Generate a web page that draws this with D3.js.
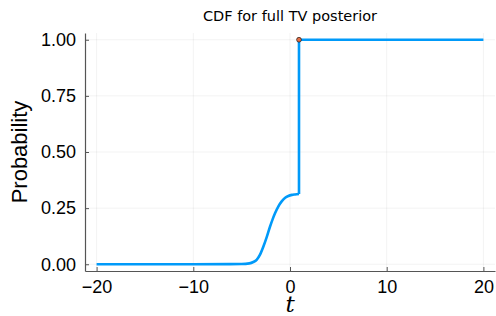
<!DOCTYPE html>
<html>
<head>
<meta charset="utf-8">
<script src="https://cdn.jsdelivr.net/npm/d3@7"></script>
<style>
  body { margin: 0; background: #fff; }
</style>
</head>
<body>
<div id="chart"></div>
<script>
// data
const tValues = [-20, -10, -5, -4.2, -3.8, -3.45, -3.1, -2.76, -2.4, -2.07, -1.8, -1.55, -1.2, -0.86, -0.5, -0.17, 0.2, 0.52, 0.93];
const probValues = [0, 0, 0.001, 0.004, 0.010, 0.020, 0.043, 0.078, 0.122, 0.167, 0.200, 0.227, 0.258, 0.280, 0.296, 0.304, 0.309, 0.311, 0.313];
const jumpT = 0.93;
const upperT = [0.93, 20];
const upperP = [1, 1];
const xTicks = [-20, -10, 0, 10, 20];
const yTicks = [0, 0.25, 0.5, 0.75, 1];

const W = 496, H = 316;
const margin = { top: 33, right: 1, bottom: 45, left: 85 };
const width = W - margin.left - margin.right;
const height = H - margin.top - margin.bottom;

const svg = d3.select("#chart").append("svg")
    .attr("width", W)
    .attr("height", H);

const g = svg.append("g")
    .attr("transform", `translate(${margin.left},${margin.top})`);

const x = d3.scaleLinear().domain([-21.2, 21.2]).range([0, width]);
const y = d3.scaleLinear().domain([-0.03, 1.03]).range([height, 0]);

// grid
g.selectAll(".vgrid").data(xTicks).join("line")
    .attr("x1", d => x(d)).attr("x2", d => x(d))
    .attr("y1", 0).attr("y2", height)
    .attr("stroke", "#000").attr("stroke-opacity", 0.1).attr("stroke-width", 0.5);
g.selectAll(".hgrid").data(yTicks).join("line")
    .attr("x1", 0).attr("x2", width)
    .attr("y1", d => y(d)).attr("y2", d => y(d))
    .attr("stroke", "#000").attr("stroke-opacity", 0.1).attr("stroke-width", 0.5);

// axes
const xAxis = g.append("g")
    .attr("transform", `translate(0,${height})`)
    .call(d3.axisBottom(x).tickValues(xTicks).tickSizeInner(-4).tickSizeOuter(0).tickPadding(9)
        .tickFormat(d => d < 0 ? "\u2212" + Math.abs(d) : d));
const yAxis = g.append("g")
    .call(d3.axisLeft(y).tickValues(yTicks).tickSizeInner(-4).tickSizeOuter(0).tickPadding(9)
        .tickFormat(d3.format(".2f")));

[xAxis, yAxis].forEach(a => {
    a.select(".domain").attr("stroke", "#555").attr("stroke-width", 1.2);
    a.selectAll(".tick line").attr("stroke", "#555");
    a.selectAll(".tick text")
        .attr("fill", "#000")
        .style("font-family", "Liberation Sans, Arial, sans-serif")
        .style("font-size", "18px");
});

// CDF line
const pts = tValues.map((t, i) => [t, probValues[i]]);

const line = d3.line()
    .x(d => x(d[0]))
    .y(d => y(d[1]))
    .curve(d3.curveMonotoneX);

g.append("path")
    .datum(pts)
    .attr("fill", "none")
    .attr("stroke", "#009af9")
    .attr("stroke-width", 2.6)
    .attr("d", line);

// jump and upper part
g.append("path")
    .datum([[jumpT, probValues[probValues.length - 1]]].concat(upperT.map((t, i) => [t, upperP[i]])))
    .attr("fill", "none")
    .attr("stroke", "#009af9")
    .attr("stroke-width", 2.6)
    .attr("d", d3.line().x(d => x(d[0])).y(d => y(d[1])));

// marker
g.append("circle")
    .attr("cx", x(jumpT))
    .attr("cy", y(1))
    .attr("r", 2.4)
    .attr("fill", "#e26f46")
    .attr("stroke", "#000")
    .attr("stroke-width", 0.6);

// labels
svg.append("text")
    .attr("x", 290)
    .attr("y", 21)
    .attr("text-anchor", "middle")
    .style("font-family", "DejaVu Sans, sans-serif")
    .style("font-size", "14.5px")
    .text("CDF for full TV posterior");

svg.append("text")
    .attr("transform", `translate(27,${margin.top + height / 2}) rotate(-90)`)
    .attr("text-anchor", "middle")
    .style("font-family", "Liberation Sans, Arial, sans-serif")
    .style("font-size", "22px")
    .text("Probability");

svg.append("text")
    .attr("x", 290)
    .attr("y", 312)
    .attr("text-anchor", "middle")
    .style("font-family", "DejaVu Serif, serif")
    .style("font-style", "italic")
    .style("font-size", "23px")
    .text("t");
</script>
</body>
</html>
